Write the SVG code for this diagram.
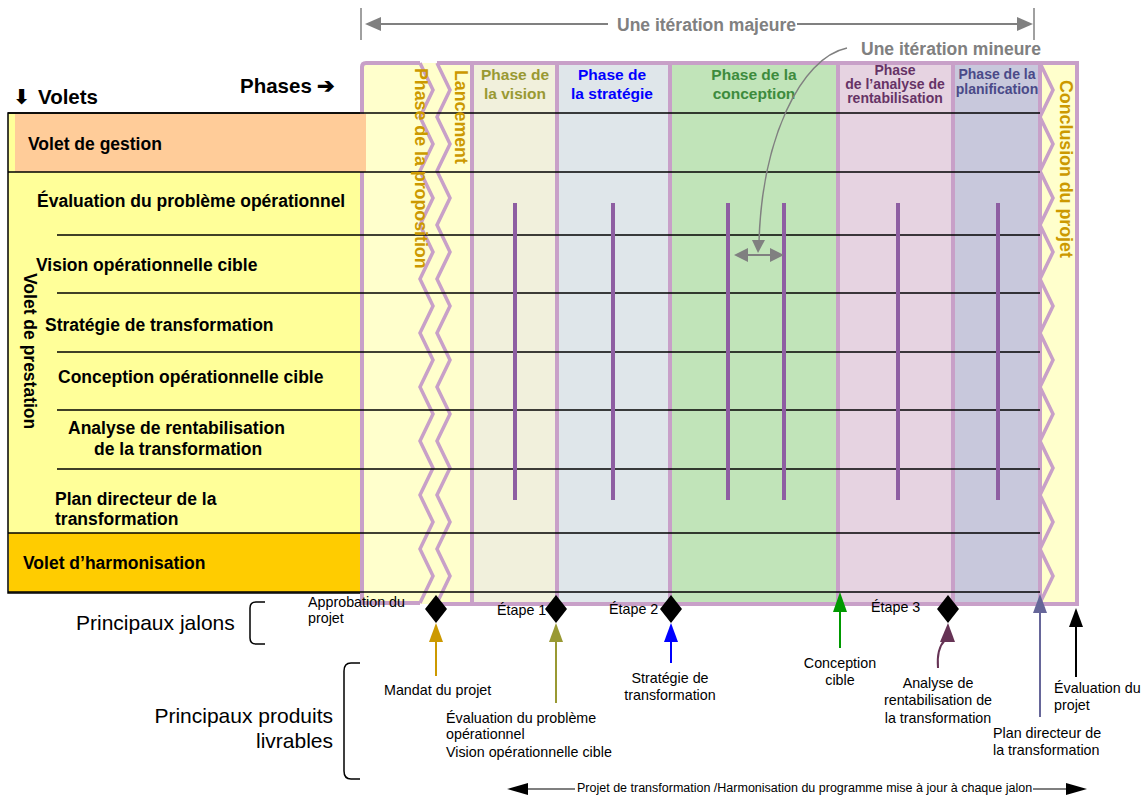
<svg xmlns="http://www.w3.org/2000/svg" width="1147" height="795" viewBox="0 0 1147 795">
<style>
text{font-family:"Liberation Sans",Arial,sans-serif;fill:#000}
.b{font-weight:bold}
.row{font-size:17.5px;font-weight:bold}
.ph{font-size:15.5px;font-weight:bold;text-anchor:middle}
.ph2{font-size:14px;font-weight:bold;text-anchor:middle}
.vt{font-size:17.8px;font-weight:bold;fill:#cc9900}
.sm{font-size:14.3px}
.mid{text-anchor:middle}
.frame{fill:none;stroke:#c8a0c8;stroke-width:4}
.zz{fill:none;stroke:#c8a0c8;stroke-width:3.5;stroke-linejoin:miter}
.hl{stroke:#000;stroke-width:1.5}
.bar{stroke:#8e5ea2;stroke-width:4}
.gray{stroke:#808080;fill:none}
</style>

<g id="volets">
  <rect x="8" y="113" width="354" height="480" fill="#ffff99" stroke="#000" stroke-width="1.5"/>
  <rect x="9" y="533" width="353" height="59" fill="#ffcc00"/>
  <text x="13" y="104" class="b" font-size="20.5" style="font-family:'DejaVu Sans',sans-serif">⬇</text>
  <text x="38" y="104" class="b" font-size="20.5">Volets</text>
  <text x="240" y="93" class="b" font-size="20.5">Phases ➔</text>
</g>

<g id="phases">
  <rect x="362" y="63" width="110" height="541" fill="#ffffcc"/>
  <rect x="472" y="63" width="85" height="541" fill="#f1f0dc"/>
  <rect x="557" y="63" width="113" height="541" fill="#dfe6ea"/>
  <rect x="670" y="63" width="168" height="541" fill="#c1e4b9"/>
  <rect x="838" y="63" width="115" height="541" fill="#e6d3e1"/>
  <rect x="953" y="63" width="87" height="541" fill="#c8c8dc"/>
  <rect x="1040" y="63" width="37" height="541" fill="#ffffcc"/>
  <path class="frame" d="M420,63 L366,63 Q362,63 362,67 L362,603 L420,603"/>
  <path class="frame" d="M437,63 L1077,63 L1077,604 L437,604"/>
  <line class="frame" x1="472" y1="63" x2="472" y2="604"/>
  <line class="frame" x1="557" y1="63" x2="557" y2="604"/>
  <line class="frame" x1="670" y1="63" x2="670" y2="604"/>
  <line class="frame" x1="838" y1="63" x2="838" y2="604"/>
  <line class="frame" x1="953" y1="63" x2="953" y2="604"/>
  <line class="frame" x1="1040" y1="63" x2="1040" y2="604"/>
  <polyline class="zz" points="420,63 433,90 420,117 433,144 420,171 433,198 420,225 433,252 420,279 433,306 420,333 433,360 420,387 433,414 420,441 433,468 420,495 433,522 420,549 433,576 420,603"/>
  <polyline class="zz" points="437,63 450,90 437,117 450,144 437,171 450,198 437,225 450,252 437,279 450,306 437,333 450,360 437,387 450,414 437,441 450,468 437,495 450,522 437,549 450,576 437,603"/>
  <polyline class="zz" points="1040,63 1053,90 1040,117 1053,144 1040,171 1053,198 1040,225 1053,252 1040,279 1053,306 1040,333 1053,360 1040,387 1053,414 1040,441 1053,468 1040,495 1053,522 1040,549 1053,576 1040,603"/>
</g>

<g id="gestion">
  <rect x="15" y="114" width="351" height="58" fill="#ffcc99"/>
  <text x="28" y="150" class="row">Volet de gestion</text>
</g>

<g id="lines">
  <line class="hl" x1="8" y1="113" x2="1040" y2="113"/>
  <line class="hl" x1="8" y1="172" x2="1040" y2="172"/>
  <line class="hl" x1="57" y1="235" x2="1040" y2="235"/>
  <line class="hl" x1="57" y1="293" x2="1040" y2="293"/>
  <line class="hl" x1="57" y1="352" x2="1040" y2="352"/>
  <line class="hl" x1="57" y1="410" x2="1040" y2="410"/>
  <line class="hl" x1="57" y1="469" x2="1040" y2="469"/>
  <line class="hl" x1="8" y1="533" x2="1040" y2="533"/>
  <line class="hl" x1="8" y1="592" x2="1040" y2="592"/>
</g>

<g id="prestation">
  <text x="37" y="207" class="row">Évaluation du problème opérationnel</text>
  <text x="36" y="271" class="row">Vision opérationnelle cible</text>
  <text x="45" y="331" class="row">Stratégie de transformation</text>
  <text x="58" y="383" class="row">Conception opérationnelle cible</text>
  <text x="68" y="434" class="row">Analyse de rentabilisation</text>
  <text x="94" y="455" class="row">de la transformation</text>
  <text x="55" y="505" class="row">Plan directeur de la</text>
  <text x="55" y="525" class="row">transformation</text>
  <text class="row" transform="translate(24,273) rotate(90)">Volet de prestation</text>
</g>

<g id="harmonisation">
  <text x="23" y="569" class="row">Volet d’harmonisation</text>
</g>

<g id="phase-labels">
  <text class="vt" transform="translate(415,68) rotate(90)">Phase de la proposition</text>
  <text class="vt" transform="translate(455,70) rotate(90)">Lancement</text>
  <text class="vt" transform="translate(1060,80) rotate(90)">Conclusion du projet</text>
  <text class="ph" x="515" y="80" style="fill:#999933">Phase de</text>
  <text class="ph" x="515" y="99" style="fill:#999933">la vision</text>
  <text class="ph" x="612" y="80" style="fill:#0000ff">Phase de</text>
  <text class="ph" x="612" y="99" style="fill:#0000ff">la stratégie</text>
  <text class="ph" x="754" y="80" style="fill:#3d8b3d">Phase de la</text>
  <text class="ph" x="754" y="99" style="fill:#3d8b3d">conception</text>
  <text class="ph2" x="895" y="75" style="fill:#663366">Phase</text>
  <text class="ph2" x="895" y="89" style="fill:#663366">de l’analyse de</text>
  <text class="ph2" x="895" y="103" style="fill:#663366">rentabilisation</text>
  <text class="ph2" x="997" y="79" style="fill:#4a4a88">Phase de la</text>
  <text class="ph2" x="997" y="94" style="fill:#4a4a88">planification</text>
</g>

<g id="iterations">
  <line class="bar" x1="515" y1="203" x2="515" y2="500"/>
  <line class="bar" x1="613" y1="203" x2="613" y2="500"/>
  <line class="bar" x1="728" y1="203" x2="728" y2="500"/>
  <line class="bar" x1="784" y1="203" x2="784" y2="500"/>
  <line class="bar" x1="898" y1="203" x2="898" y2="500"/>
  <line class="bar" x1="998" y1="203" x2="998" y2="500"/>
</g>

<g id="iteration-labels">
  <text x="617" y="31" class="b" font-size="17.5" style="fill:#808080">Une itération majeure</text>
  <text x="861" y="55" class="b" font-size="17.5" style="fill:#808080">Une itération mineure</text>
</g>

<g id="milestones">
  <polygon points="436,595 447,609 436,623 425,609" fill="#000"/>
  <polygon points="556,595 567,609 556,623 545,609" fill="#000"/>
  <polygon points="671,595 682,609 671,623 660,609" fill="#000"/>
  <polygon points="948,595 959,609 948,623 937,609" fill="#000"/>
  <text x="308" y="607" class="sm">Approbation du</text>
  <text x="308" y="623" class="sm">projet</text>
  <text x="497" y="615" class="sm">Étape 1</text>
  <text x="609" y="614" class="sm">Étape 2</text>
  <text x="871" y="612" class="sm">Étape 3</text>
</g>

<g id="legend">
  <text x="76" y="630" font-size="21">Principaux jalons</text>
  <path d="M265,602 L256,602 Q250,602 250,608 L250,638 Q250,644 256,644 L265,644" fill="none" stroke="#000" stroke-width="1.5"/>
  <text x="333" y="723" font-size="21" text-anchor="end">Principaux produits</text>
  <text x="333" y="748" font-size="21" text-anchor="end">livrables</text>
  <path d="M360,663 L351,663 Q344,663 344,671 L344,771 Q344,779 351,779 L360,779" fill="none" stroke="#000" stroke-width="1.5"/>
</g>

<g id="deliverables">
  <text x="384" y="695" class="sm">Mandat du projet</text>
  <text x="446" y="723" class="sm">Évaluation du problème</text>
  <text x="446" y="739" class="sm">opérationnel</text>
  <text x="446" y="757" class="sm">Vision opérationnelle cible</text>
  <text x="670" y="683" class="sm mid">Stratégie de</text>
  <text x="670" y="700" class="sm mid">transformation</text>
  <text x="840" y="668" class="sm mid">Conception</text>
  <text x="840" y="685" class="sm mid">cible</text>
  <text x="938" y="688" class="sm mid">Analyse de</text>
  <text x="938" y="705" class="sm mid">rentabilisation de</text>
  <text x="938" y="723" class="sm mid">la transformation</text>
  <text x="993" y="738" class="sm">Plan directeur de</text>
  <text x="993" y="755" class="sm">la transformation</text>
  <text x="1054" y="693" class="sm">Évaluation du</text>
  <text x="1054" y="710" class="sm">projet</text>
  <text x="577" y="792" font-size="12.5">Projet de transformation /Harmonisation du programme mise à jour à chaque jalon</text>
</g>

<g id="connectors">
  <line class="gray" x1="361" y1="8" x2="361" y2="40" stroke-width="1.5"/>
  <line class="gray" x1="378" y1="24" x2="608" y2="24" stroke-width="2"/>
  <polygon points="365,24 381,17 381,31" fill="#808080"/>
  <line class="gray" x1="797" y1="24" x2="1020" y2="24" stroke-width="2"/>
  <polygon points="1033,24 1017,17 1017,31" fill="#808080"/>
  <line class="gray" x1="1034" y1="8" x2="1034" y2="40" stroke-width="1.5"/>
  <path class="gray" d="M847,48 C800,58 762,140 759,242" stroke-width="1.5"/>
  <polygon points="758,253 752,240 765,240" fill="#808080"/>
  <line class="gray" x1="746" y1="255" x2="772" y2="255" stroke-width="2"/>
  <polygon points="734,255 748,248 748,262" fill="#808080"/>
  <polygon points="784,255 770,248 770,262" fill="#808080"/>

  <line x1="436" y1="640" x2="436" y2="676" stroke="#cc9900" stroke-width="2"/>
  <polygon points="436,623 443,642 429,642" fill="#cc9900"/>
  <line x1="556" y1="640" x2="556" y2="703" stroke="#999933" stroke-width="2"/>
  <polygon points="556,623 563,642 549,642" fill="#999933"/>
  <line x1="671" y1="640" x2="671" y2="663" stroke="#0000ff" stroke-width="2"/>
  <polygon points="671,623 678,642 664,642" fill="#0000ff"/>
  <line x1="840" y1="610" x2="840" y2="648" stroke="#009900" stroke-width="2"/>
  <polygon points="840,592 847,612 833,612" fill="#009900"/>
  <path d="M938,668 C937,656 939,646 945,640" fill="none" stroke="#663355" stroke-width="2"/>
  <polygon points="948,623 955,642 940,642" fill="#663355"/>
  <line x1="1040" y1="610" x2="1040" y2="717" stroke="#666699" stroke-width="2"/>
  <polygon points="1040,594 1047,613 1033,613" fill="#666699"/>
  <line x1="1076" y1="624" x2="1076" y2="677" stroke="#000" stroke-width="2"/>
  <polygon points="1076,608 1083,627 1069,627" fill="#000"/>

  <line x1="526" y1="789" x2="575" y2="789" stroke="#000" stroke-width="1.2"/>
  <polygon points="507,789 528,783 528,795" fill="#000"/>
  <line x1="1033" y1="789" x2="1070" y2="789" stroke="#000" stroke-width="1.2"/>
  <polygon points="1087,789 1066,783 1066,795" fill="#000"/>
</g>
</svg>
